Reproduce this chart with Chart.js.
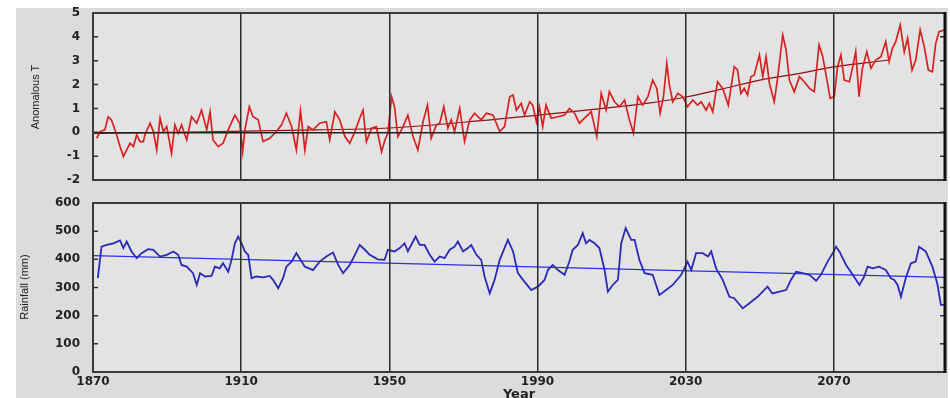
<!DOCTYPE html>
<html><head><meta charset="utf-8">
<script src="https://cdn.jsdelivr.net/npm/chart.js@4.4.0/dist/chart.umd.min.js"></script>
<style>
html,body{margin:0;padding:0;background:#fff;width:950px;height:398px;overflow:hidden;}
#bg{position:absolute;left:16px;top:8px;width:932px;height:390px;background:#dcdcdc;}
#w1{position:absolute;left:0;top:0;width:950px;height:192px;}
#w2{position:absolute;left:0;top:190px;width:950px;height:222px;}
.yt{position:absolute;font:11px "Liberation Sans",Arial,sans-serif;color:#222;white-space:nowrap;transform:translate(-50%,-50%) rotate(-90deg);}
</style></head><body>
<div id="bg"></div>
<div id="w1"><canvas id="c1"></canvas></div>
<div id="w2"><canvas id="c2"></canvas></div>
<div class="yt" style="left:35px;top:97px">Anomalous T</div>
<div class="yt" style="left:24px;top:287px">Rainfall (mm)</div>
<script>
const xTickYears = [1870, 1910, 1950, 1990, 2030, 2070];

const tempYears = [1871.0,1871.9,1873.2,1874.1,1875.0,1876.4,1877.3,1878.2,1879.1,1880.0,1880.9,1881.8,1882.7,1883.6,1884.0,1885.4,1886.3,1887.2,1888.1,1889.0,1889.9,1891.2,1892.1,1893.0,1893.9,1895.3,1896.6,1898.0,1899.3,1900.7,1901.6,1902.4,1903.8,1905.1,1906.5,1908.3,1909.6,1910.4,1911.0,1912.2,1913.2,1914.6,1915.9,1917.7,1919.5,1920.9,1922.2,1923.6,1924.9,1926.0,1927.2,1928.1,1929.4,1931.2,1933.0,1933.9,1935.3,1936.6,1938.0,1939.3,1940.7,1942.0,1942.9,1943.8,1945.2,1946.5,1947.9,1948.8,1949.6,1950.6,1951.4,1952.3,1953.7,1955.0,1956.4,1957.7,1959.1,1960.3,1961.3,1962.7,1963.6,1964.7,1965.8,1966.7,1967.6,1969.0,1970.3,1971.7,1973.0,1974.8,1976.2,1978.0,1979.8,1981.1,1982.5,1983.4,1984.3,1985.6,1986.5,1987.9,1988.7,1989.7,1990.5,1991.4,1992.3,1993.7,1995.5,1997.3,1998.6,2000.0,2001.3,2002.7,2004.5,2006.0,2007.2,2008.5,2009.4,2010.8,2012.1,2013.5,2014.8,2015.9,2017.1,2018.4,2019.8,2021.1,2022.2,2023.1,2024.0,2024.9,2025.6,2026.5,2027.9,2029.2,2030.5,2031.9,2033.2,2034.2,2035.5,2036.4,2037.3,2038.6,2040.0,2041.5,2043.1,2044.0,2044.9,2045.8,2046.7,2047.6,2048.5,2049.9,2050.8,2051.7,2052.6,2053.9,2054.8,2056.2,2057.1,2058.0,2059.3,2060.7,2062.0,2063.4,2064.7,2066.0,2067.0,2067.9,2069.0,2070.1,2071.0,2071.9,2072.8,2074.2,2075.0,2075.9,2076.8,2077.7,2078.9,2080.0,2081.3,2082.7,2084.0,2084.9,2085.8,2086.7,2087.9,2089.0,2089.9,2091.1,2092.1,2093.3,2094.4,2095.5,2096.6,2097.5,2098.4,2099.8];
const tempValues = [-0.25,0.03,0.10,0.65,0.52,-0.11,-0.60,-1.02,-0.74,-0.46,-0.60,-0.11,-0.39,-0.39,-0.11,0.38,0.03,-0.74,0.59,0.03,0.24,-0.88,0.31,-0.04,0.31,-0.32,0.65,0.38,0.93,0.10,0.86,-0.32,-0.60,-0.46,0.10,0.72,0.38,-0.81,0.10,1.07,0.65,0.52,-0.39,-0.25,0.03,0.31,0.80,0.24,-0.74,0.90,-0.74,0.24,0.10,0.38,0.44,-0.32,0.86,0.52,-0.18,-0.46,0.03,0.59,0.93,-0.39,0.17,0.24,-0.81,-0.32,-0.04,1.49,1.07,-0.18,0.24,0.72,-0.18,-0.74,0.44,1.14,-0.25,0.31,0.38,1.07,0.17,0.52,0.03,1.00,-0.39,0.52,0.80,0.52,0.80,0.72,0.03,0.24,1.49,1.56,0.93,1.21,0.72,1.28,1.14,0.44,1.07,0.24,1.14,0.59,0.65,0.72,1.00,0.80,0.38,0.59,0.86,-0.18,1.63,0.93,1.70,1.28,1.07,1.35,0.52,-0.04,1.49,1.14,1.49,2.19,1.84,0.80,1.49,2.89,1.98,1.28,1.63,1.49,1.07,1.35,1.14,1.28,0.93,1.21,0.86,2.12,1.84,1.14,2.75,2.61,1.63,1.84,1.56,2.33,2.40,3.24,2.33,3.17,2.05,1.28,2.26,4.08,3.45,2.19,1.70,2.33,2.12,1.84,1.70,3.66,3.17,2.40,1.42,1.49,2.75,3.24,2.19,2.12,2.68,3.38,1.49,2.68,3.38,2.68,3.03,3.17,3.80,2.96,3.52,3.80,4.50,3.38,3.94,2.61,3.03,4.29,3.59,2.61,2.54,3.73,4.22,4.29];

const tempTrendYears = [1870, 1900, 1930, 1950, 1970, 1990, 2005, 2020, 2030, 2040, 2050, 2060, 2070, 2085];
const tempTrendValues = [-0.05, 0.02, 0.10, 0.18, 0.42, 0.72, 0.96, 1.22, 1.48, 1.82, 2.19, 2.45, 2.74, 3.03];

const rainYears = [1871.3,1872.3,1873.7,1875.5,1877.3,1878.2,1879.1,1880.4,1881.8,1883.1,1884.9,1886.3,1888.1,1889.9,1891.7,1893.0,1893.9,1895.3,1897.0,1898.0,1898.9,1900.2,1902.0,1902.9,1904.2,1905.1,1906.5,1907.4,1908.3,1909.2,1910.1,1911.0,1911.9,1912.8,1914.1,1915.9,1917.7,1918.6,1920.0,1921.3,1922.2,1923.6,1924.9,1926.3,1927.2,1929.4,1931.2,1933.0,1934.8,1936.2,1937.5,1939.3,1940.7,1942.0,1943.4,1944.7,1946.9,1948.7,1949.6,1951.4,1952.8,1954.1,1955.0,1955.9,1957.1,1958.2,1959.5,1960.9,1962.2,1963.6,1964.9,1966.3,1967.6,1968.5,1969.9,1971.2,1972.1,1973.5,1974.8,1975.7,1977.1,1978.4,1979.8,1982.0,1983.4,1984.7,1986.1,1988.3,1990.1,1991.9,1992.8,1994.1,1995.5,1997.3,1998.6,1999.5,2000.9,2002.2,2003.1,2004.0,2005.4,2006.7,2008.1,2009.0,2010.3,2011.7,2012.6,2013.8,2015.3,2016.2,2017.5,2018.9,2021.1,2022.9,2024.7,2026.5,2028.8,2030.5,2031.5,2032.8,2034.6,2036.0,2036.9,2038.2,2040.0,2041.8,2043.1,2045.4,2047.2,2049.4,2052.1,2053.4,2055.3,2057.1,2058.4,2059.8,2061.6,2063.4,2065.2,2066.5,2068.3,2069.7,2070.6,2071.5,2073.3,2075.1,2076.9,2078.2,2079.1,2080.5,2082.2,2084.0,2085.4,2086.3,2087.2,2088.1,2089.4,2090.8,2092.1,2093.0,2094.8,2096.6,2097.9,2098.9,2099.8];
const rainValues = [333,445,451,457,467,440,463,428,404,422,436,434,410,416,428,416,380,374,351,309,351,339,341,374,368,386,356,398,457,481,457,428,416,333,339,336,341,327,297,333,374,392,422,392,374,362,392,410,424,380,351,380,416,451,434,416,400,398,434,428,440,457,428,451,481,451,451,416,392,410,404,434,445,463,428,440,451,416,398,339,279,327,398,469,428,351,327,291,303,327,362,380,362,345,392,434,451,493,457,469,457,440,362,285,309,327,457,511,469,469,398,351,345,273,291,309,345,392,362,422,422,410,428,368,327,267,262,226,244,267,303,279,285,291,327,356,351,345,324,345,392,422,445,428,380,345,309,339,374,368,374,362,333,327,309,267,333,386,392,445,428,374,315,238,238];

const rainTrendYears = [1870, 2100];
const rainTrendValues = [413, 336];

const tempTicks = {min: -2, max: 5, step: 1};
const rainTicks = {min: 0, max: 600, step: 100};

const pts = (xs, ys) => xs.map((x, i) => ({x: x, y: ys[i]}));
const tickFont = {family: 'DejaVu Sans', weight: 'bold', size: 12};

const framePlugin = {
  id: 'frame',
  beforeDraw(chart) {
    const ctx = chart.ctx, a = chart.chartArea;
    ctx.save();
    ctx.fillStyle = '#e3e3e3';
    ctx.fillRect(a.left, a.top, a.right - a.left, a.bottom - a.top);
    ctx.restore();
  },
  afterDraw(chart) {
    const ctx = chart.ctx, a = chart.chartArea, y = chart.scales.y;
    ctx.save();
    ctx.strokeStyle = '#333';
    ctx.lineWidth = 1.5;
    y.ticks.forEach(t => {
      const py = y.getPixelForValue(t.value);
      ctx.beginPath();
      ctx.moveTo(a.left, py); ctx.lineTo(a.left + 5, py);
      ctx.moveTo(a.right, py); ctx.lineTo(a.right - 5, py);
      ctx.stroke();
    });
    ctx.strokeStyle = '#3a3a3a';
    ctx.lineWidth = 2;
    ctx.strokeRect(a.left, a.top, a.right - a.left, a.bottom - a.top);
    ctx.strokeStyle = '#111';
    ctx.lineWidth = 3;
    ctx.beginPath(); ctx.moveTo(a.right, a.top - 1); ctx.lineTo(a.right, a.bottom + 1); ctx.stroke();
    ctx.restore();
  }
};

function xScale(showLabels, h) {
  return {
    type: 'linear', min: 1870, max: 2100,
    afterBuildTicks: s => { s.ticks = xTickYears.map(v => ({value: v})); },
    ticks: {display: showLabels, padding: 3, color: '#222', font: tickFont, maxRotation: 0, autoSkip: false, callback: v => String(v)},
    grid: {color: '#2b2b2b', lineWidth: 1.5, drawTicks: false, z: 1},
    border: {display: false},
    title: showLabels ? {display: true, text: 'Year', color: '#222', font: {family: 'DejaVu Sans', weight: 'bold', size: 13}, padding: {top: 0, bottom: 10}} : {display: false},
    afterFit: s => { s.height = h; s.paddingLeft = 0; s.paddingRight = 0; }
  };
}

function yScale(t) {
  return {
    min: t.min, max: t.max,
    ticks: {stepSize: t.step, padding: 13, color: '#222', font: tickFont, callback: v => String(v)},
    border: {display: false},
    afterFit: s => { s.width = 67; s.paddingTop = 0; s.paddingBottom = 0; }
  };
}

const yTop = yScale(tempTicks);
yTop.grid = {color: c => (c.tick && c.tick.value === 0) ? '#222' : 'rgba(0,0,0,0)', lineWidth: 1.5, drawTicks: false, z: 1};
const yBot = yScale(rainTicks);
yBot.grid = {display: false, drawTicks: false};

new Chart(document.getElementById('c1'), {
  type: 'line',
  data: {datasets: [
    {data: pts(tempYears, tempValues), borderColor: '#d62222', borderWidth: 1.7, pointRadius: 0, tension: 0},
    {data: pts(tempTrendYears, tempTrendValues), borderColor: '#8c1010', borderWidth: 1.2, pointRadius: 0, tension: 0.4}
  ]},
  options: {
    responsive: true, maintainAspectRatio: false, animation: false, events: [],
    layout: {padding: {left: 26, right: 5, top: 13, bottom: 12}},
    plugins: {legend: {display: false}, tooltip: {enabled: false}},
    scales: {x: xScale(false, 0), y: yTop}
  },
  plugins: [framePlugin]
});

new Chart(document.getElementById('c2'), {
  type: 'line',
  data: {datasets: [
    {data: pts(rainYears, rainValues), borderColor: '#2a2ab4', borderWidth: 1.8, pointRadius: 0, tension: 0},
    {data: pts(rainTrendYears, rainTrendValues), borderColor: '#2e2ee6', borderWidth: 1.2, pointRadius: 0, tension: 0}
  ]},
  options: {
    responsive: true, maintainAspectRatio: false, animation: false, events: [],
    layout: {padding: {left: 26, right: 5, top: 13, bottom: 0}},
    plugins: {legend: {display: false}, tooltip: {enabled: false}},
    scales: {x: xScale(true, 40), y: yBot}
  },
  plugins: [framePlugin]
});
</script>
</body></html>
